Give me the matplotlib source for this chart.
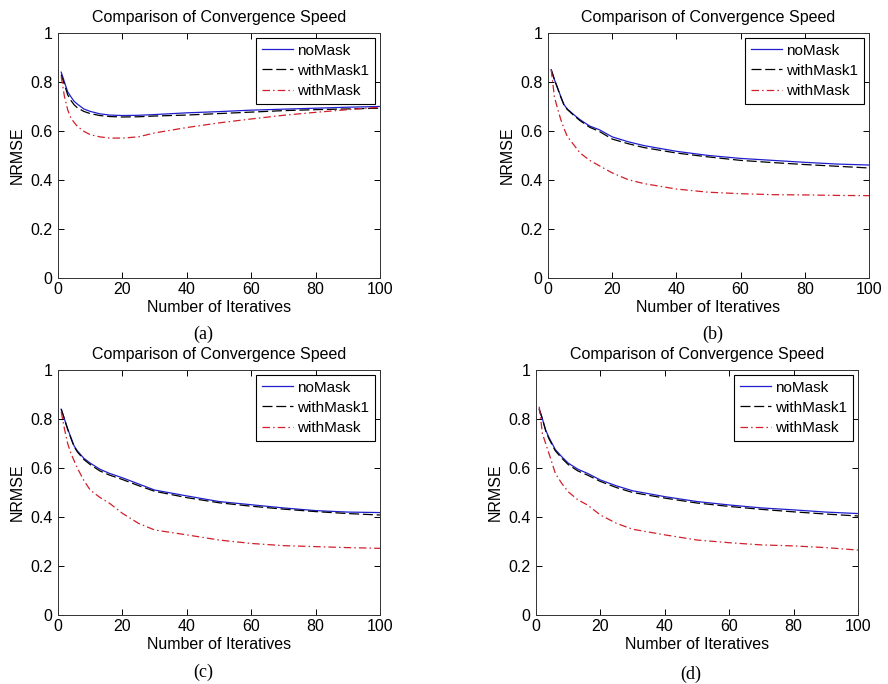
import matplotlib as mpl
mpl.use('Agg')
import numpy as np
import matplotlib.pyplot as plt

plt.rcParams['font.family'] = ['Liberation Sans', 'DejaVu Sans']

iters = [1, 2, 3, 4, 5, 6, 8, 10, 13, 16, 20, 25, 30, 40, 50, 60, 70, 80, 90, 100]

# (a)
a_nomask = [0.84, 0.80, 0.76, 0.74, 0.721, 0.71, 0.69, 0.68, 0.67, 0.665, 0.663, 0.664, 0.667,
            0.674, 0.679, 0.685, 0.689, 0.693, 0.697, 0.700]
a_mask1 = [0.83, 0.79, 0.748, 0.725, 0.707, 0.695, 0.68, 0.671, 0.663, 0.659, 0.657, 0.658, 0.661,
           0.665, 0.671, 0.677, 0.683, 0.687, 0.690, 0.693]
a_mask = [0.823, 0.741, 0.687, 0.653, 0.635, 0.619, 0.599, 0.585, 0.576, 0.571, 0.571, 0.576, 0.592,
          0.614, 0.633, 0.649, 0.664, 0.676, 0.687, 0.697]

# (b)
b_nomask = [0.85, 0.81, 0.776, 0.74, 0.707, 0.69, 0.667, 0.646, 0.62, 0.605, 0.576, 0.556, 0.54,
            0.517, 0.50, 0.488, 0.48, 0.472, 0.465, 0.461]
b_mask1 = [0.85, 0.81, 0.774, 0.738, 0.705, 0.688, 0.664, 0.642, 0.615, 0.598, 0.567, 0.548, 0.532,
           0.51, 0.494, 0.48, 0.471, 0.463, 0.456, 0.449]
b_mask = [0.85, 0.74, 0.69, 0.646, 0.61, 0.578, 0.544, 0.51, 0.48, 0.458, 0.429, 0.401, 0.385,
          0.363, 0.35, 0.344, 0.34, 0.339, 0.337, 0.336]

# (c)
c_nomask = [0.84, 0.80, 0.76, 0.725, 0.69, 0.67, 0.64, 0.62, 0.595, 0.578, 0.56, 0.535, 0.51,
            0.486, 0.463, 0.45, 0.437, 0.426, 0.42, 0.418]
c_mask1 = [0.84, 0.80, 0.758, 0.722, 0.687, 0.666, 0.635, 0.614, 0.588, 0.571, 0.553, 0.528, 0.505,
           0.479, 0.458, 0.444, 0.432, 0.422, 0.414, 0.408]
c_mask = [0.83, 0.76, 0.70, 0.66, 0.63, 0.60, 0.55, 0.51, 0.48, 0.456, 0.415, 0.374, 0.347,
          0.327, 0.306, 0.292, 0.283, 0.279, 0.275, 0.272]

# (d)
d_nomask = [0.84, 0.80, 0.755, 0.725, 0.70, 0.675, 0.646, 0.62, 0.595, 0.578, 0.551, 0.527, 0.507,
            0.483, 0.463, 0.449, 0.437, 0.429, 0.42, 0.414]
d_mask1 = [0.84, 0.80, 0.752, 0.72, 0.695, 0.67, 0.64, 0.614, 0.588, 0.571, 0.545, 0.52, 0.50,
           0.477, 0.457, 0.443, 0.431, 0.421, 0.412, 0.404]
d_mask = [0.85, 0.74, 0.70, 0.66, 0.62, 0.578, 0.537, 0.503, 0.47, 0.449, 0.408, 0.374, 0.35,
          0.327, 0.306, 0.295, 0.286, 0.282, 0.275, 0.265]

panels = [(a_nomask, a_mask1, a_mask), (b_nomask, b_mask1, b_mask),
          (c_nomask, c_mask1, c_mask), (d_nomask, d_mask1, d_mask)]
panel_labels = ['(a)', '(b)', '(c)', '(d)']
series_names = ['noMask', 'withMask1', 'withMask']

# axes rectangles in figure fraction (left, bottom, width, height)
rects = [(0.0653, 0.5936, 0.3626, 0.3582), (0.6171, 0.5936, 0.3615, 0.3582),
         (0.0653, 0.1009, 0.3626, 0.3582), (0.6036, 0.1009, 0.3626, 0.3582)]
label_pos = [(0.229, 0.505), (0.803, 0.505), (0.229, 0.010), (0.778, 0.007)]

fig = plt.figure(figsize=(8.88, 6.84), dpi=100)

for i in range(4):
    ax = fig.add_axes(rects[i])
    nm, m1, m = panels[i]
    ax.plot(iters, nm, color='#1f1fd0', lw=0.9, label=series_names[0])
    ax.plot(iters, m1, color='black', lw=0.9, ls=(0, (8, 3)), label=series_names[1])
    ax.plot(iters, m, color='#d0202a', lw=0.9, ls=(0, (6, 2.5, 1.2, 2.5)), label=series_names[2])
    ax.set_xlim(0, 100)
    ax.set_ylim(0, 1)
    ax.set_xticks([0, 20, 40, 60, 80, 100])
    ax.set_yticks([0, 0.2, 0.4, 0.6, 0.8, 1])
    ax.set_yticklabels(['0', '0.2', '0.4', '0.6', '0.8', '1'])
    ax.tick_params(direction='in', top=True, right=True, length=4, width=0.7,
                   labelsize=11.5)
    ax.tick_params(axis='y', pad=4)
    ax.tick_params(axis='x', pad=3)
    for s in ax.spines.values():
        s.set_linewidth(0.7)
        s.set_color('#333333')
    ax.set_title('Comparison of Convergence Speed', fontsize=11.5, pad=8)
    ax.set_xlabel('Number of Iteratives', fontsize=11.5, labelpad=2)
    ax.set_ylabel('NRMSE', fontsize=11.5, labelpad=4)
    leg = ax.legend(loc='upper right', fontsize=11, handlelength=2.0, handletextpad=0.3,
                    borderpad=0.4, labelspacing=0.4, fancybox=False, framealpha=1,
                    borderaxespad=0.3)
    leg.get_frame().set_edgecolor('black')
    leg.get_frame().set_linewidth(0.8)
    fig.text(label_pos[i][0], label_pos[i][1], panel_labels[i], ha='center',
             fontsize=13, family=['Liberation Serif', 'DejaVu Serif'])

fig.savefig('out.png', dpi=100)
plt.close()
